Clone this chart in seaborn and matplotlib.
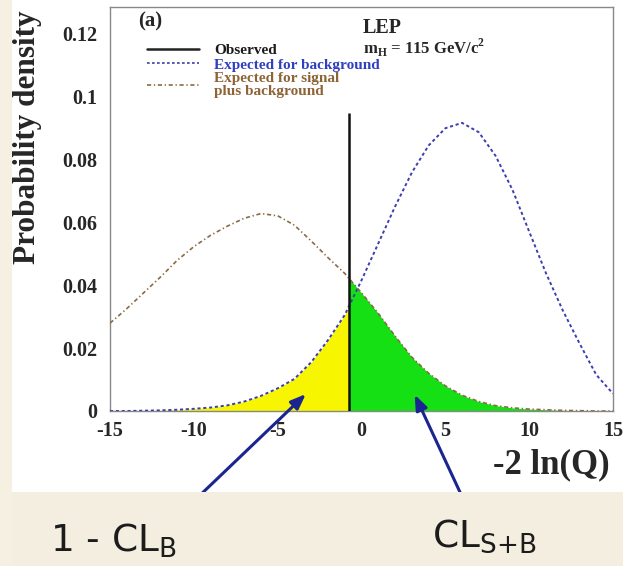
import numpy as np
import pandas as pd
import matplotlib
matplotlib.use("Agg")
import matplotlib.pyplot as plt
import seaborn as sns
from matplotlib.lines import Line2D
from matplotlib.patches import Rectangle
from matplotlib.ticker import MultipleLocator, FuncFormatter

# ---- data ----
x_vals = list(range(-15, 16))
bkg_density = [0.0, 0.0, 0.0001, 0.0002, 0.0004, 0.0007, 0.0011, 0.0018, 0.0030,
               0.0048, 0.0072, 0.0102, 0.0155, 0.0225, 0.0305, 0.0415, 0.0532,
               0.0649, 0.0757, 0.0843, 0.0898, 0.0915, 0.0885, 0.0810, 0.0703,
               0.0570, 0.0438, 0.0320, 0.0215, 0.0115, 0.0055]
sb_density = [0.0279, 0.0325, 0.0375, 0.0425, 0.0478, 0.0522, 0.0558, 0.0587,
              0.0612, 0.0627, 0.0620, 0.0590, 0.0540, 0.0487, 0.0437, 0.0375,
              0.0310, 0.0238, 0.0171, 0.0120, 0.0080, 0.0050, 0.0030, 0.0017,
              0.0010, 0.0006, 0.0004, 0.0002, 0.0001, 0.0, 0.0]
observed_x = -0.77
observed_top = 0.0945
x_ticks = [-15, -10, -5, 0, 5, 10, 15]
y_ticks = [0, 0.02, 0.04, 0.06, 0.08, 0.1, 0.12]

legend_labels = ["Observed", "Expected for background",
                 "Expected for signal\nplus background"]

df = pd.DataFrame({"x": x_vals, "bkg": bkg_density, "sb": sb_density})

sns.set_style("white")
serif = ["Liberation Serif", "DejaVu Serif"]
plt.rcParams["font.family"] = serif
plt.rcParams["axes.unicode_minus"] = False

W, H = 623, 566
fig = plt.figure(figsize=(W / 100, H / 100), dpi=100, facecolor="white")
# background tints
fig.patches.append(Rectangle((0, 0), 1, 74 / H, transform=fig.transFigure,
                             facecolor="#f4eee1", edgecolor="none", zorder=0))
fig.patches.append(Rectangle((0, 0), 12 / W, 1, transform=fig.transFigure,
                             facecolor="#f6f0e3", edgecolor="none", zorder=0))

ax = fig.add_axes([110 / W, 1 - 411 / H, (613 - 110) / W, (411 - 7) / H])
ax.set_facecolor("white")

blue = "#3b3fae"
brown = "#8a6a45"

xs = np.asarray(x_vals, float)
b = np.asarray(bkg_density)
s = np.asarray(sb_density)

# yellow: background below observed
lm = xs < observed_x
xl = np.append(xs[lm], observed_x)
yl = np.append(b[lm], np.interp(observed_x, xs, b))
ax.fill_between(xl, 0, yl, color="#f7f500", lw=0, zorder=1)
# green: s+b above observed
rm = xs > observed_x
xr = np.insert(xs[rm], 0, observed_x)
yr = np.insert(s[rm], 0, np.interp(observed_x, xs, s))
ax.fill_between(xr, 0, yr, color="#14e014", lw=0, zorder=1)

sns.lineplot(data=df, x="x", y="bkg", ax=ax, color=blue, lw=1.4, zorder=3)
ax.lines[-1].set_dashes((1.6, 1.4))
sns.lineplot(data=df, x="x", y="sb", ax=ax, color=brown, lw=1.2, zorder=3)
ax.lines[-1].set_dashes((2.5, 1.6, 0.8, 1.6))

ax.vlines(observed_x, 0, observed_top, color="#111111", lw=1.8, zorder=4)

ax.set_xlim(-15, 15)
ax.set_ylim(0, 0.1283)
ax.set_xticks(x_ticks)
ax.set_yticks(y_ticks)
ax.xaxis.set_minor_locator(MultipleLocator(1))
ax.yaxis.set_minor_locator(MultipleLocator(0.005))
ax.xaxis.set_major_formatter(FuncFormatter(lambda v, p: f"{int(round(v))}"))
ax.yaxis.set_major_formatter(FuncFormatter(lambda v, p: "0" if abs(v) < 1e-9 else f"{v:g}"))
ax.tick_params(which="major", direction="in", length=9, width=0.8, color="#777777",
               labelsize=14.5, pad=7)
ax.tick_params(which="minor", direction="in", length=4.5, width=0.8, color="#777777")
ax.tick_params(axis="y", which="major", pad=9)
for lab in ax.get_xticklabels() + ax.get_yticklabels():
    lab.set_fontweight("bold")
for sp in ax.spines.values():
    sp.set_color("#888888")
    sp.set_linewidth(1.0)

ax.set_ylabel("Probability density", fontsize=22.5, fontweight="bold")
ax.yaxis.set_label_coords(-0.165, 0.678)
ax.yaxis.label.set_va("center")
ax.set_xlabel("-2 ln(Q)", fontsize=25, fontweight="bold", ha="right")
ax.xaxis.set_label_coords(0.994, -0.134)
ax.xaxis.label.set_va("center")

ax.text(0.055, 0.963, "(a)", transform=ax.transAxes, fontsize=15, fontweight="bold",
        va="center", ha="left")
ax.text(0.503, 0.948, "LEP", transform=ax.transAxes, fontsize=14.5, fontweight="bold",
        va="center", ha="left")
ax.text(0.503, 0.900, r"m$_{\mathregular{H}}$ = 115 GeV/c$^{\mathregular{2}}$",
        transform=ax.transAxes, fontsize=12, fontweight="bold", va="center", ha="left")

handles = [Line2D([], [], color="#222222", lw=1.8),
           Line2D([], [], color=blue, lw=1.2, dashes=(1.6, 1.4)),
           Line2D([], [], color=brown, lw=1.2, dashes=(2.5, 1.6, 0.8, 1.6))]
leg = ax.legend(handles, legend_labels, loc="upper left",
                bbox_to_anchor=(0.062, 0.925), frameon=False, handlelength=3.4,
                handletextpad=0.95, labelspacing=0.05, borderaxespad=0,
                prop={"family": serif, "weight": "bold", "size": 11})
for t, c in zip(leg.get_texts(), ["#1a1a1a", "#2f3fc0", "#8c6436"]):
    t.set_color(c)
    t.set_linespacing(1.0)

# annotations below the chart
sans = ["DejaVu Sans"]
fig.text(50 / W, 1 - 552 / H, r"1 - CL$_{\mathregular{B}}$", fontsize=27,
         family=sans, color="#1c1c1c", ha="left", va="baseline")
fig.text(432 / W, 1 - 547 / H, r"CL$_{\mathregular{S{+}B}}$", fontsize=27,
         family=sans, color="#1c1c1c", ha="left", va="baseline")
arrow_kw = dict(arrowstyle="-|>,head_length=0.9,head_width=0.35", color="#1a2590", lw=2.2)
ax.annotate("", xy=(-3.2, 0.006), xycoords="data",
            xytext=(195 / W, 1 - 500 / H), textcoords="figure fraction",
            arrowprops=arrow_kw, annotation_clip=False)
ax.annotate("", xy=(3.1, 0.006), xycoords="data",
            xytext=(472 / W, 1 - 518 / H), textcoords="figure fraction",
            arrowprops=arrow_kw, annotation_clip=False)

fig.savefig("out.png", dpi=100, facecolor=fig.get_facecolor())
